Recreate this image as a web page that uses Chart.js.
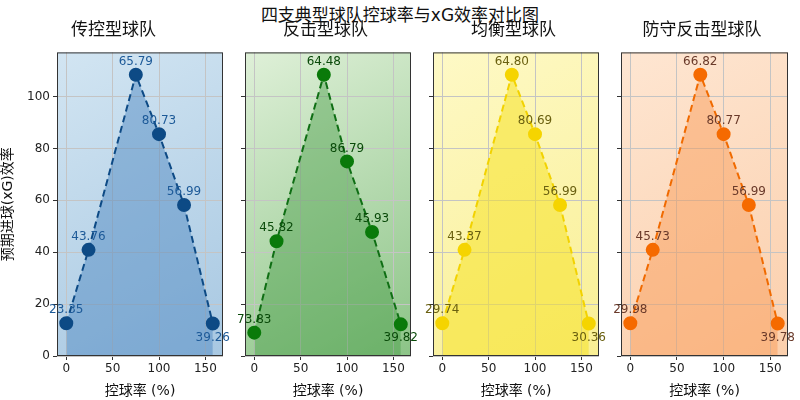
<!DOCTYPE html>
<html><head><meta charset="utf-8">
<script src="https://cdn.jsdelivr.net/npm/chart.js@4"></script>
<style>
body{margin:0;width:800px;height:400px;background:#fff;position:relative;overflow:hidden;font-family:"DejaVu Sans","Noto Sans CJK SC",sans-serif}
#t{position:absolute;top:1px;left:0;width:800px;text-align:center;font-size:17px;color:#111}
.c{position:absolute;top:0;height:400px}
</style></head><body>
<div id="t">四支典型球队控球率与xG效率对比图</div>
<div class="c" style="left:0;width:231px"><canvas id="c0"></canvas></div>
<div class="c" style="left:236px;width:183px"><canvas id="c1"></canvas></div>
<div class="c" style="left:424px;width:183px"><canvas id="c2"></canvas></div>
<div class="c" style="left:612px;width:184px"><canvas id="c3"></canvas></div>
<script>
const teams=["传控型球队","反击型球队","均衡型球队","防守反击型球队"];
const possession=[0,24,75,100,127,158];
const xg0=[12.6,40.9,108.4,85.5,58.2,12.5];
const xg1=[9,44.2,108.4,75,47.8,12.2];
const xg2=[12.6,40.9,108.4,85.5,58.2,12.5];
const xg3=[12.6,40.9,108.4,85.5,58.2,12.5];
const eff0=["23.35","43.76","65.79","80.73","56.99","39.26"];
const eff1=["73.83","45.82","64.48","86.79","45.93","39.82"];
const eff2=["29.74","43.37","64.80","80.69","56.99","30.36"];
const eff3=["29.98","45.73","66.82","80.77","56.99","39.78"];
const xTicks=[0,50,100,150];
const yTicks=[0,20,40,60,80,100];
const xgs=[xg0,xg1,xg2,xg3], effs=[eff0,eff1,eff2,eff3];
const styles=[
 {line:'#0d4a85',pt:'#0d4a85',fill:'rgba(70,130,190,0.45)',bg:['#d2e5f2','#a8c8e2'],lab:'#1d5a98'},
 {line:'#0f6e14',pt:'#0a7a0a',fill:'rgba(60,150,60,0.40)',bg:['#dff0d8','#8cc487'],lab:'#0a4a0a'},
 {line:'#f2d200',pt:'#f5d400',fill:'rgba(245,225,40,0.55)',bg:['#fef9c6','#f9ef94'],lab:'#6a6010'},
 {line:'#f06a00',pt:'#f56a00',fill:'rgba(248,150,80,0.45)',bg:['#fee6d2','#fbcfac'],lab:'#6a3a2a'}
];
const F='"DejaVu Sans","Noto Sans CJK SC",sans-serif';
for(let i=0;i<4;i++){
 const s=styles[i];
 const plug={id:'p'+i,
  beforeDraw(ch){const a=ch.chartArea,c=ch.ctx;const g=c.createLinearGradient(a.left,a.top,a.right,a.bottom);g.addColorStop(0,s.bg[0]);g.addColorStop(1,s.bg[1]);c.save();c.fillStyle=g;c.fillRect(a.left,a.top,a.right-a.left,a.bottom-a.top);c.restore();},
  afterDraw(ch){const a=ch.chartArea,c=ch.ctx;c.save();c.strokeStyle='#333';c.lineWidth=1;c.strokeRect(a.left+0.5,a.top+0.5,a.right-a.left-1,a.bottom-a.top-1);
   c.font='12px '+F;c.fillStyle=s.lab;c.textAlign='center';
   const m=ch.getDatasetMeta(0);
   m.data.forEach((p,k)=>{const last=k===m.data.length-1;c.textBaseline=last?'top':'bottom';c.fillText(effs[i][k],p.x,last?p.y+8:p.y-7);});
   c.restore();}
 };
 new Chart(document.getElementById('c'+i),{type:'line',
  data:{labels:possession,datasets:[{data:possession.map((x,k)=>({x,y:xgs[i][k]})),borderColor:s.line,borderWidth:2,borderDash:[7,4],backgroundColor:s.fill,fill:'origin',pointRadius:6,pointBackgroundColor:s.pt,pointBorderColor:s.pt,tension:0}]},
  options:{responsive:true,maintainAspectRatio:false,animation:false,
   layout:{padding:{top:20,right:4,bottom:0,left:0}},
   plugins:{legend:{display:false},tooltip:{enabled:false},
    title:{display:true,text:teams[i],color:'#111',font:{size:17,family:F,weight:'normal'},padding:{top:0,bottom:12}}},
   scales:{
    x:{type:'linear',min:-10,max:169,afterBuildTicks(ax){ax.ticks=xTicks.map(v=>({value:v}));},
     afterFit(ax){ax.height=44;},
     grid:{color:'#c4c4c4',tickLength:4,tickColor:'#333'},border:{display:false},
     ticks:{color:'#222',font:{size:12,family:F},padding:2,maxRotation:0},
     title:{display:true,text:'控球率 (%)',color:'#111',font:{size:14,family:F},padding:{top:0,bottom:0}}},
    y:{min:0,max:117,afterBuildTicks(ax){ax.ticks=yTicks.map(v=>({value:v}));},
     afterFit(ax){ax.width=i===0?57:9;},
     grid:{color:'#c4c4c4',tickLength:4,tickColor:'#333'},border:{display:false},
     ticks:{display:i===0,color:'#222',font:{size:12,family:F},padding:3},
     title:{display:i===0,text:'预期进球(xG)效率',color:'#111',font:{size:14,family:F},padding:{top:0,bottom:2}}}
   }},
  plugins:[plug]});
}
</script></body></html>
